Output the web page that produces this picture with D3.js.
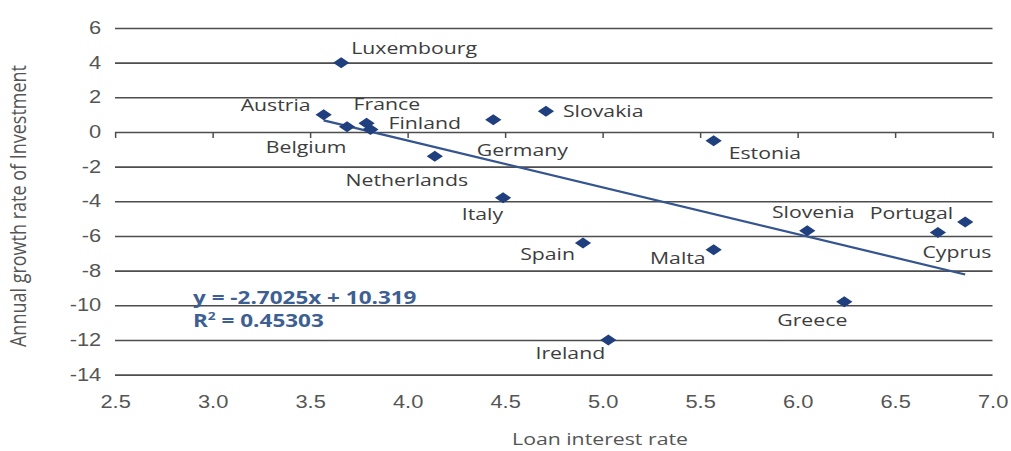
<!DOCTYPE html>
<html>
<head>
<meta charset="utf-8">
<script src="https://cdn.jsdelivr.net/npm/d3@7"></script>
<style>
  body { margin: 0; background: #fff; }
  svg { display: block; font-family: "Open Sans", sans-serif; }
  .grid line { stroke: #4d4d4d; stroke-width: 1.6; }
  .grid .domain { display: none; }
  .grid text { fill: #555; font-size: 17.5px; }
  .xticks line { stroke: #4d4d4d; stroke-width: 1.2; }
  .xticks .domain { display: none; }
  .xlabels .domain, .xlabels line { display: none; }
  .xlabels text { fill: #555; font-size: 17.5px; }
  .country { fill: #3d3d3d; font-size: 17px; }
  .title { fill: #555; font-size: 17px; }
  .ytitle { fill: #555; font-size: 18px; }
  .eq { fill: #3d5f92; font-size: 18px; font-weight: bold; }
</style>
</head>
<body>
<div id="chart"></div>
<script>
'use strict'

// data
const countries = ['Luxembourg', 'Austria', 'Belgium', 'France', 'Finland', 'Germany', 'Slovakia', 'Estonia',
    'Netherlands', 'Italy', 'Spain', 'Malta', 'Slovenia', 'Portugal', 'Cyprus', 'Greece', 'Ireland']
const loanRate = [3.66, 3.57, 3.69, 3.79, 3.81, 4.44, 4.71, 5.57, 4.14, 4.49, 4.90, 5.57, 6.05, 6.86, 6.72, 6.24, 5.03]
const investGrowth = [4.0, 1.0, 0.3, 0.5, 0.15, 0.7, 1.2, -0.5, -1.4, -3.8, -6.4, -6.8, -5.7, -5.2, -5.8, -9.8, -12.0]
const xTicks = [2.5, 3.0, 3.5, 4.0, 4.5, 5.0, 5.5, 6.0, 6.5, 7.0]
const yTicks = [-14, -12, -10, -8, -6, -4, -2, 0, 2, 4, 6]
const slope = -2.7025
const intercept = 10.319
const rSquared = 0.45303

const data = countries.map((c, i) => ({ name: c, x: loanRate[i], y: investGrowth[i] }))

// label placement: [dx, dy, anchor] in screen px
const labelPlacement = {
    'Luxembourg': [10, -15, 'start'],
    'Austria': [-13, -10, 'end'],
    'Belgium': [-41, 20, 'middle'],
    'France': [-13, -19, 'start'],
    'Finland': [18, -6, 'start'],
    'Germany': [29, 30, 'middle'],
    'Slovakia': [17, 0, 'start'],
    'Estonia': [15, 12, 'start'],
    'Netherlands': [-28, 24, 'middle'],
    'Italy': [0, 16, 'end'],
    'Spain': [-8, 11, 'end'],
    'Malta': [-8, 8, 'end'],
    'Slovenia': [6, -19, 'middle'],
    'Portugal': [-12, -9, 'end'],
    'Cyprus': [19, 20, 'middle'],
    'Greece': [-32, 18, 'middle'],
    'Ireland': [-38, 13, 'middle']
}

// the original picture is stretched sideways, so the whole drawing is too
const svgWidth = 1011
const svgHeight = 451
const stretch = 1.25
const vbWidth = svgWidth / stretch

const svg = d3.select('#chart')
    .append('svg')
    .attr('width', svgWidth)
    .attr('height', svgHeight)
    .attr('viewBox', `0 0 ${vbWidth} ${svgHeight}`)
    .attr('preserveAspectRatio', 'none')

const xScale = d3.scaleLinear()
    .domain([2.5, 7.0])
    .range([115 / stretch, 992.5 / stretch])

const yScale = d3.scaleLinear()
    .domain([-14, 6])
    .range([374.6, 28])

const width = xScale.range()[1] - xScale.range()[0]

// horizontal gridlines + y labels
svg.append('g')
    .attr('class', 'grid')
    .attr('transform', `translate(${xScale.range()[0]},0)`)
    .call(d3.axisLeft(yScale)
        .tickValues(yTicks)
        .tickFormat(d => String(d))
        .tickSize(-width)
        .tickPadding(10))
    .selectAll('text')
    .attr('dx', -1)

// small ticks hanging off the zero line
svg.append('g')
    .attr('class', 'xticks')
    .attr('transform', `translate(0,${yScale(0)})`)
    .call(d3.axisBottom(xScale).tickValues(xTicks).tickSize(6).tickFormat(''))

// x labels under the chart
svg.append('g')
    .attr('class', 'xlabels')
    .attr('transform', `translate(0,${yScale(-14) + 18})`)
    .call(d3.axisBottom(xScale).tickValues(xTicks).tickSize(0).tickFormat(d3.format('.1f')))

// trend line
const xExt = d3.extent(loanRate)
svg.append('line')
    .attr('x1', xScale(xExt[0]))
    .attr('y1', yScale(slope * xExt[0] + intercept))
    .attr('x2', xScale(xExt[1]))
    .attr('y2', yScale(slope * xExt[1] + intercept))
    .attr('stroke', '#34558f')
    .attr('stroke-width', 2.2)

// diamonds
const hw = 6.5, hh = 5.5
svg.selectAll('.pt')
    .data(data)
    .join('path')
    .attr('class', 'pt')
    .attr('d', `M0,${-hh}L${hw},0L0,${hh}L${-hw},0Z`)
    .attr('transform', d => `translate(${xScale(d.x)},${yScale(d.y)})`)
    .attr('fill', '#1f3f7e')

// country labels
svg.selectAll('.country')
    .data(data)
    .join('text')
    .attr('class', 'country')
    .attr('x', d => xScale(d.x) + labelPlacement[d.name][0] / stretch)
    .attr('y', d => yScale(d.y) + labelPlacement[d.name][1])
    .attr('dy', '0.35em')
    .attr('text-anchor', d => labelPlacement[d.name][2])
    .text(d => d.name)

// regression equation
svg.append('text')
    .attr('class', 'eq')
    .attr('x', xScale(2.9))
    .attr('y', yScale(-10) - 1)
    .text(`y = ${slope}x + ${intercept}`)
const r2 = svg.append('text')
    .attr('class', 'eq')
    .attr('x', xScale(2.9))
    .attr('y', yScale(-10) + 22)
r2.append('tspan').text('R')
r2.append('tspan').attr('font-size', '11px').attr('dy', -7).text('2')
r2.append('tspan').attr('dy', 7).text(` = ${rSquared}`)

// axis titles
svg.append('text')
    .attr('class', 'title')
    .attr('x', 600 / stretch)
    .attr('y', 445)
    .attr('text-anchor', 'middle')
    .text('Loan interest rate')

svg.append('text')
    .attr('class', 'ytitle')
    .attr('transform', `translate(${26 / stretch},206) rotate(-90)`)
    .attr('text-anchor', 'middle')
    .text('Annual growth rate of Investment')
</script>
</body>
</html>
